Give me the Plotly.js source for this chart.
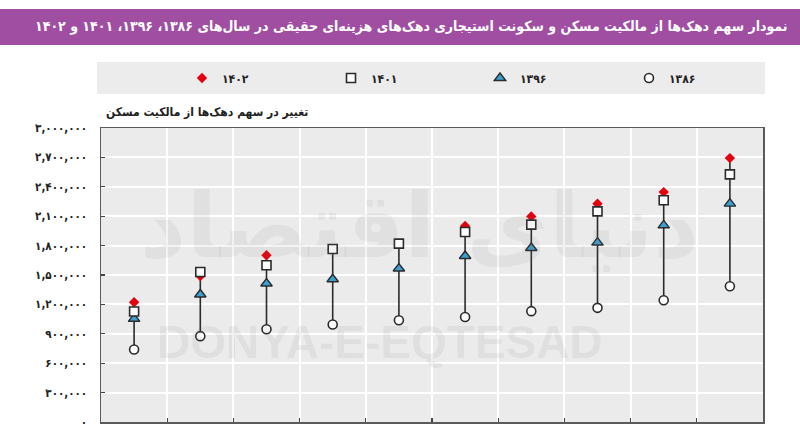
<!DOCTYPE html>
<html>
<head>
<meta charset="utf-8">
<script src="https://cdn.plot.ly/plotly-3.0.1.min.js"></script>
<style>html,body{margin:0;padding:0;background:#fff;}#chart{width:800px;height:436px;}</style>
</head>
<body>
<div id="chart"></div>
<script>
// Deciles (hazine-ee dahak 1..10)
const deciles = [1, 2, 3, 4, 5, 6, 7, 8, 9, 10];
// Values
const y1386 = [740000, 876000, 947000, 995000, 1039000, 1072000, 1131000, 1165000, 1243000, 1385000];
const y1396 = [1053000, 1301000, 1413000, 1457000, 1566000, 1694000, 1776000, 1831000, 2007000, 2228000];
const y1401 = [1128000, 1531000, 1599000, 1765000, 1820000, 1939000, 2014000, 2149000, 2262000, 2527000];
const y1402 = [1222000, 1490000, 1701000, 1760000, 1815000, 2000000, 2098000, 2228000, 2346000, 2693000];
const seriesNames = ['۱۳۸۶', '۱۳۹۶', '۱۴۰۱', '۱۴۰۲'];
const tickVals = [0, 300000, 600000, 900000, 1200000, 1500000, 1800000, 2100000, 2400000, 2700000, 3000000];
const tickText = ['۰', '۳۰۰,۰۰۰', '۶۰۰,۰۰۰', '۹۰۰,۰۰۰', '۱,۲۰۰,۰۰۰', '۱,۵۰۰,۰۰۰', '۱,۸۰۰,۰۰۰', '۲,۱۰۰,۰۰۰', '۲,۴۰۰,۰۰۰', '۲,۷۰۰,۰۰۰', '۳,۰۰۰,۰۰۰'];
const xGrid = [1.5, 2.5, 3.5, 4.5, 5.5, 6.5, 7.5, 8.5, 9.5];
const titleText = 'نمودار سهم دهک‌ها از مالکیت مسکن و سکونت استیجاری دهک‌های هزینه‌ای حقیقی در سال‌های ۱۳۸۶، ۱۳۹۶، ۱۴۰۱ و ۱۴۰۲';
const subtitleText = 'تغییر در سهم دهک‌ها از مالکیت مسکن';

// build range segments from data
const segX = [], segY = [];
deciles.forEach((d, i) => {
  const vals = [y1386[i], y1396[i], y1401[i], y1402[i]];
  segX.push(d, d, null);
  segY.push(Math.min(...vals), Math.max(...vals), null);
});

const F = 'DejaVu Sans, Noto Sans, sans-serif';
const FC = 'DejaVu Sans Condensed, DejaVu Sans, sans-serif';
const outline = '#2b2b2b';

const traces = [
  {x: segX, y: segY, mode: 'lines', line: {color: outline, width: 1.6}, showlegend: false, hoverinfo: 'skip'},
  {x: deciles, y: y1386, name: seriesNames[0], mode: 'markers', legendrank: 4,
   marker: {symbol: 'circle', size: 9, color: '#ffffff', line: {color: outline, width: 1.6}}},
  {x: deciles, y: y1396, name: seriesNames[1], mode: 'markers', legendrank: 3,
   marker: {symbol: 'triangle-up', size: 10, color: '#3aa0d2', line: {color: outline, width: 1.4}}},
  {x: deciles, y: y1402, name: seriesNames[3], mode: 'markers', legendrank: 1,
   marker: {symbol: 'diamond', size: 8, color: '#e3000f', line: {width: 0}}},
  {x: deciles, y: y1401, name: seriesNames[2], mode: 'markers', legendrank: 2,
   marker: {symbol: 'square', size: 9, color: '#ffffff', line: {color: outline, width: 1.6}}}
];

const pxY = v => (422 - v) / 294;   // helper for paper y from pixel (layout only)
const pxX = v => (v - 101) / 662;

const layout = {
  width: 800, height: 436,
  margin: {l: 101, r: 37, t: 128, b: 14},
  paper_bgcolor: '#ffffff',
  plot_bgcolor: '#ebebeb',
  font: {family: F, color: '#222'},
  showlegend: true,
  legend: {
    orientation: 'h', x: pxX(182), xanchor: 'left', y: pxY(78), yanchor: 'middle',
    bgcolor: 'rgba(0,0,0,0)', entrywidth: 104, entrywidthmode: 'pixels',
    font: {family: FC, size: 12, color: '#222', weight: 'bold'}, traceorder: 'normal', itemwidth: 30
  },
  xaxis: {
    range: [0.5, 10.5], tickvals: xGrid, showticklabels: false,
    ticks: 'inside', ticklen: 4, tickcolor: '#444', tickwidth: 1.2,
    showgrid: true, gridcolor: '#ffffff', gridwidth: 2, zeroline: false,
    showline: true, linecolor: '#5a5a5a', linewidth: 1.5, mirror: true
  },
  yaxis: {
    range: [0, 3000000], tickvals: tickVals, ticktext: tickText,
    ticks: 'inside', ticklen: 4, tickcolor: '#444', tickwidth: 1.2,
    ticklabelstandoff: 10,
    tickfont: {family: FC, size: 11.5, color: '#222', weight: 'bold'},
    showgrid: true, gridcolor: '#ffffff', gridwidth: 2, zeroline: false,
    showline: true, linecolor: '#5a5a5a', linewidth: 1.5, mirror: true
  },
  shapes: [
    {type: 'rect', xref: 'paper', yref: 'paper', x0: pxX(0), x1: pxX(800), y0: pxY(45), y1: pxY(9),
     fillcolor: '#a04ea2', line: {width: 0}, layer: 'above'},
    {type: 'rect', xref: 'paper', yref: 'paper', x0: pxX(97), x1: pxX(765), y0: pxY(94), y1: pxY(62),
     fillcolor: '#ececec', line: {width: 0}, layer: 'above'}
  ],
  annotations: [
    {text: titleText, xref: 'paper', yref: 'paper', x: pxX(790), xanchor: 'right', y: pxY(27), yanchor: 'middle',
     showarrow: false, font: {family: FC, size: 14, color: '#ffffff', weight: 'bold'}},
    {text: subtitleText, xref: 'paper', yref: 'paper', x: pxX(104), xanchor: 'left', y: pxY(112), yanchor: 'middle',
     showarrow: false, font: {family: FC, size: 12, color: '#222', weight: 'bold'}},
    {text: 'دنیای اقتصاد', xref: 'paper', yref: 'paper', x: pxX(420), xanchor: 'center', y: pxY(225), yanchor: 'middle',
     showarrow: false, font: {family: F, size: 90, color: 'rgba(120,120,120,0.09)', weight: 'bold'}},
    {text: 'DONYA-E-EQTESAD', xref: 'paper', yref: 'paper', x: pxX(380), xanchor: 'center', y: pxY(342), yanchor: 'middle',
     showarrow: false, font: {family: 'Liberation Sans Narrow, Liberation Sans, sans-serif', size: 46, color: 'rgba(110,110,110,0.10)', weight: 'bold'}}
  ]
};

Plotly.newPlot('chart', traces, layout, {displayModeBar: false, staticPlot: true});
</script>
</body>
</html>
